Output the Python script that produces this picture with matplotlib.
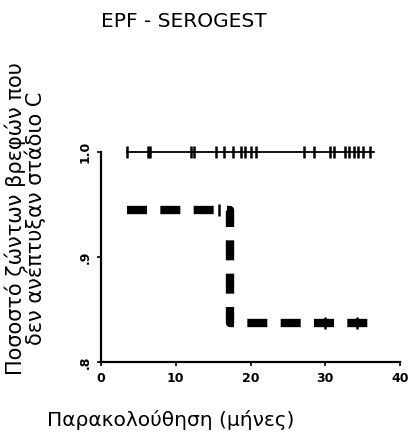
import matplotlib

matplotlib.use("Agg")
import matplotlib.pyplot as plt

# --- data ---
# upper curve: no events, survival stays at 1.0
upper_t = [3.5, 36.5]
upper_s = [1.0, 1.0]
upper_cens = [3.5, 6.3, 6.6, 12.1, 12.5, 15.4, 16.5, 17.6, 18.7, 19.2, 20.0, 20.7,
              27.2, 28.5, 30.7, 31.2, 32.6, 33.2, 33.8, 34.4, 35.0, 36.0]

# lower curve: one drop at ~17.3 months
lower_t = [3.5, 17.3, 37.2]
lower_s = [0.945, 0.837, 0.837]
lower_cens = [15.8, 29.9, 34.3]

XTICKS = [0, 10, 20, 30, 40]
YTICKS = [0.8, 0.9, 1.0]
YTICKLABELS = [".8", ".9", "1.0"]

TITLE = "EPF - SEROGEST"
YLABEL = "Ποσοστό ζώντων βρεφών που\nδεν ανέπτυξαν στάδιο C"
XLABEL = "Παρακολούθηση (μήνες)"

fig = plt.figure(figsize=(4.09, 4.48), dpi=100)
fig.patch.set_facecolor("white")
ax = fig.add_axes([0.247, 0.192, 0.731, 0.469])

ax.step(upper_t, upper_s, where="post", color="black", linewidth=1.3, zorder=3,
        clip_on=False)
ax.plot(upper_cens, [1.0] * len(upper_cens), linestyle="none", marker="|",
        markersize=8, markeredgewidth=1.8, color="black", zorder=4, clip_on=False)

ax.step(lower_t, lower_s, where="post", color="black", linewidth=6,
        linestyle=(0, (2.4, 1.6)), zorder=3)


def s_at(t):
    val = lower_s[0]
    for tt, ss in zip(lower_t, lower_s):
        if t >= tt:
            val = ss
    return val


ax.plot(lower_cens, [s_at(t) for t in lower_cens], linestyle="none", marker="|",
        markersize=8, markeredgewidth=1.8, color="black", zorder=4)

ax.set_xlim(0, 40)
ax.set_ylim(0.8, 1.0)
ax.set_xticks(XTICKS)
ax.set_xticklabels([str(v) for v in XTICKS], fontsize=9, fontweight="bold")
ax.set_yticks(YTICKS)
ax.set_yticklabels(YTICKLABELS, fontsize=9, fontweight="bold", rotation=90,
                   va="center")
for s in ("top", "right"):
    ax.spines[s].set_visible(False)
for s in ("left", "bottom"):
    ax.spines[s].set_linewidth(1.6)
ax.tick_params(direction="out", length=3, width=1.2, pad=4)

fig.text(0.45, 0.951, TITLE, ha="center", va="center", fontsize=14.5)
fig.text(0.062, 0.513, YLABEL, ha="center", va="center", rotation=90,
         fontsize=15, linespacing=0.95)
fig.text(0.418, 0.063, XLABEL, ha="center", va="center", fontsize=14.5)

fig.savefig("out.png", dpi=100, facecolor="white")
